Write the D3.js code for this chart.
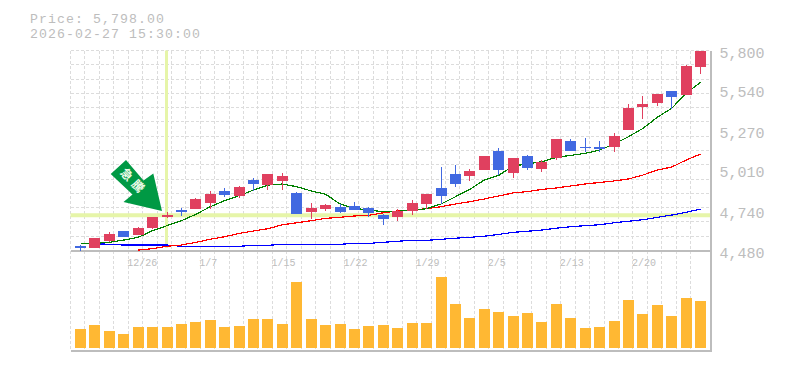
<!DOCTYPE html>
<html>
<head>
<meta charset="utf-8">
<script src="https://cdn.jsdelivr.net/npm/d3@7"></script>
<style>
  html, body { margin: 0; padding: 0; background: #fff; overflow: hidden; }
  svg { display: block; }
  text { font-family: "Liberation Mono", "DejaVu Sans Mono", monospace; fill: #bdbdbd; }
</style>
</head>
<body>
<div id="chart"></div>
<script>
// Candles, oldest first
const opens = [4511, 4496, 4542, 4606, 4582, 4628, 4701, 4747, 4754, 4793, 4872, 4839, 4945, 4912, 4938, 4859, 4734, 4754, 4767, 4773, 4760, 4714, 4701, 4740, 4787, 4892, 4985, 4971, 5011, 5136, 4991, 5103, 5018, 5090, 5202, 5163, 5163, 5163, 5275, 5427, 5453, 5532, 5506, 5691];
const closes = [4496, 4562, 4587, 4569, 4628, 4701, 4714, 4736, 4820, 4853, 4846, 4899, 4919, 4985, 4971, 4721, 4760, 4780, 4734, 4747, 4727, 4688, 4740, 4793, 4853, 4839, 4919, 5004, 5103, 5011, 5090, 5024, 5064, 5216, 5136, 5156, 5150, 5235, 5420, 5447, 5513, 5493, 5697, 5798];
const highs = [4518, 4562, 4602, 4606, 4635, 4701, 4734, 4760, 4826, 4872, 4892, 4905, 4958, 4985, 4991, 4866, 4793, 4787, 4787, 4800, 4767, 4721, 4754, 4813, 4853, 5031, 5044, 5018, 5103, 5156, 5090, 5110, 5077, 5216, 5216, 5222, 5202, 5255, 5447, 5499, 5513, 5532, 5704, 5798];
const lows = [4478, 4496, 4536, 4569, 4582, 4622, 4694, 4707, 4754, 4754, 4833, 4826, 4872, 4879, 4879, 4721, 4688, 4740, 4727, 4747, 4701, 4648, 4674, 4714, 4754, 4787, 4899, 4938, 5011, 4978, 4958, 5011, 4998, 5077, 5136, 5130, 5130, 5130, 5275, 5348, 5433, 5414, 5506, 5645];

// Moving averages, null where the line has not started
const maGreen = [4527, 4527, 4534, 4549, 4567, 4611, 4644, 4677, 4719, 4769, 4809, 4842, 4879, 4912, 4919, 4901, 4873, 4851, 4787, 4758, 4747, 4736, 4739, 4745, 4756, 4787, 4835, 4884, 4945, 4976, 5038, 5051, 5066, 5095, 5108, 5121, 5143, 5183, 5231, 5286, 5359, 5419, 5517, 5590];
const maRed = [null, null, null, null, 4483, 4492, 4508, 4516, 4534, 4554, 4571, 4593, 4609, 4624, 4650, 4663, 4677, 4692, 4699, 4708, 4712, 4729, 4741, 4747, 4756, 4769, 4787, 4802, 4820, 4840, 4860, 4869, 4883, 4893, 4906, 4919, 4929, 4939, 4952, 4978, 5011, 5031, 5077, 5117];
const maBlue = [4525, 4525, 4521, 4516, 4516, 4516, 4516, 4508, 4508, 4508, 4508, 4508, 4514, 4514, 4521, 4521, 4521, 4521, 4521, 4527, 4527, 4534, 4541, 4547, 4547, 4554, 4561, 4567, 4574, 4586, 4600, 4607, 4615, 4627, 4637, 4644, 4650, 4663, 4673, 4683, 4699, 4714, 4732, 4754];

const volumes = [190, 230, 170, 140, 210, 210, 210, 240, 260, 280, 210, 220, 290, 290, 240, 660, 290, 230, 240, 190, 220, 230, 200, 250, 250, 710, 440, 300, 390, 360, 320, 350, 260, 440, 300, 200, 210, 270, 480, 340, 430, 320, 500, 470];

const priceTicks = [5800, 5540, 5270, 5010, 4740, 4480];
const dateTicks = [4, 9, 14, 19, 24, 29, 34, 39];
const dateLabels = ['12/26', '1/7', '1/15', '1/22', '1/29', '2/5', '2/13', '2/20'];

const titleLines = ['Price: 5,798.00', '2026-02-27 15:30:00'];
const crossIndex = 6;
const crossPrice = 4713;
const arrowLabel = '急騰';

const config = {
  width: 785,
  height: 370,
  left: 70.5,
  right: 710.5,
  top: 50.5,
  priceBottom: 250.5,
  volTop: 277,
  volBottom: 348,
  bottom: 350.5
};
const colors = {
  up: '#e0405f',
  down: '#4169e1',
  vol: '#ffb833',
  cross: '#e6f5a9',
  grid: '#dcdcdc',
  axis: '#bdbdbd'
};

const svg = d3.select('#chart').append('svg')
  .attr('width', config.width)
  .attr('height', config.height);

const x = d3.scaleLinear().domain([0, opens.length - 1]).range([80.5, 700.6]);
const y = d3.scaleLinear().domain([4480, 5800]).range([config.priceBottom, config.top]);
const yVol = d3.scaleLinear().domain([0, 710]).range([config.volBottom, config.volTop]);

// Grid: the step is one candle wide, 14 rows in the price panel
const step = x(1) - x(0);
const gridX = d3.range(0, 44).map(i => config.left + i * step);
const gridY = d3.range(0, 14).map(i => config.top + i * (config.priceBottom - config.top) / 14);

const grid = svg.append('g')
  .attr('stroke', colors.grid)
  .attr('stroke-dasharray', '3,2')
  .attr('shape-rendering', 'crispEdges');
grid.selectAll('.gx').data(gridX).enter().append('line')
  .attr('x1', d => d).attr('x2', d => d)
  .attr('y1', config.top).attr('y2', config.bottom);
grid.selectAll('.gy').data(gridY).enter().append('line')
  .attr('y1', d => d).attr('y2', d => d)
  .attr('x1', config.left).attr('x2', config.right);

// Crosshair sits under the candles
svg.append('line')
  .attr('x1', config.left).attr('x2', config.right)
  .attr('y1', y(crossPrice)).attr('y2', y(crossPrice))
  .attr('stroke', colors.cross).attr('stroke-width', 4);
svg.append('line')
  .attr('x1', x(crossIndex) - 0.5).attr('x2', x(crossIndex) - 0.5)
  .attr('y1', config.top).attr('y2', 248)
  .attr('stroke', colors.cross).attr('stroke-width', 3);

// Axes
const axisRight = d3.axisRight(y)
  .tickValues(priceTicks)
  .tickSize(0)
  .tickPadding(9)
  .tickFormat(d3.format(','));
const gRight = svg.append('g')
  .attr('transform', `translate(${config.right},0)`)
  .call(axisRight);
gRight.select('.domain').remove();
gRight.selectAll('text')
  .attr('font-size', 15)
  .attr('dy', 6.5)
  .style('font-family', '"Liberation Mono", monospace')
  .style('fill', '#bdbdbd');

const axisBottom = d3.axisBottom(x)
  .tickValues(dateTicks)
  .tickSize(0)
  .tickPadding(0)
  .tickFormat((d, i) => dateLabels[i]);
const gBottom = svg.append('g')
  .attr('transform', `translate(0,${config.priceBottom})`)
  .call(axisBottom);
gBottom.select('.domain').remove();
gBottom.selectAll('text')
  .attr('font-size', 10)
  .attr('text-anchor', 'start')
  .attr('dx', -11.5)
  .attr('y', 15.5)
  .attr('dy', 0)
  .style('font-family', '"Liberation Mono", monospace')
  .style('fill', '#bdbdbd');

// Panel borders
const borders = svg.append('g')
  .attr('stroke', colors.axis)
  .attr('stroke-width', 2)
  .attr('shape-rendering', 'crispEdges');
borders.append('line')
  .attr('x1', config.left).attr('x2', config.right + 1)
  .attr('y1', config.priceBottom).attr('y2', config.priceBottom);
borders.append('line')
  .attr('x1', config.left).attr('x2', config.right + 1)
  .attr('y1', config.bottom).attr('y2', config.bottom);
borders.append('line')
  .attr('x1', config.right).attr('x2', config.right)
  .attr('y1', config.top).attr('y2', config.bottom + 1);

// Volume bars
svg.append('g').selectAll('rect')
  .data(volumes)
  .enter().append('rect')
  .attr('x', (d, i) => x(i) - 5.5)
  .attr('width', 11)
  .attr('y', d => yVol(d))
  .attr('height', d => config.volBottom - yVol(d))
  .attr('fill', colors.vol)
  .attr('shape-rendering', 'crispEdges');

// Moving averages
function addLine(values, color) {
  const line = d3.line()
    .defined(d => d !== null)
    .x((d, i) => x(i))
    .y(d => y(d));
  svg.append('path')
    .attr('d', line(values))
    .attr('fill', 'none')
    .attr('stroke', color)
    .attr('stroke-width', 1.2)
    .attr('shape-rendering', 'crispEdges');
}
addLine(maBlue, '#0000ff');
addLine(maRed, '#ff0000');
addLine(maGreen, '#008000');

// Candles
const candles = svg.append('g').selectAll('g')
  .data(opens)
  .enter().append('g')
  .attr('shape-rendering', 'crispEdges');
const candleColor = (i) => closes[i] >= opens[i] ? colors.up : colors.down;
const bodyLeft = (i) => Math.round(x(i) - 5.5);
candles.append('line')
  .attr('x1', (d, i) => bodyLeft(i) + 5.5)
  .attr('x2', (d, i) => bodyLeft(i) + 5.5)
  .attr('y1', (d, i) => y(highs[i]))
  .attr('y2', (d, i) => y(lows[i]))
  .attr('stroke', (d, i) => candleColor(i));
candles.append('rect')
  .attr('x', (d, i) => bodyLeft(i))
  .attr('width', 11)
  .attr('y', (d, i) => y(Math.max(opens[i], closes[i])))
  .attr('height', (d, i) => Math.max(1, Math.abs(y(opens[i]) - y(closes[i]))))
  .attr('fill', (d, i) => candleColor(i));

// Arrow marker pointing at the crosshair
const arrowPoints = [[126, 160], [143.5, 180.5], [153.3, 173.5], [162, 211], [123.5, 202], [132.5, 194.5], [110.7, 174]];
svg.append('polygon')
  .attr('points', arrowPoints.map(p => p.join(',')).join(' '))
  .attr('fill', '#009944');
svg.append('text')
  .text(arrowLabel)
  .attr('transform', 'translate(133,182.5) rotate(46)')
  .attr('text-anchor', 'middle')
  .attr('dominant-baseline', 'middle')
  .attr('font-size', 12)
  .attr('font-weight', 'bold')
  .style('font-family', '"Noto Sans CJK JP", sans-serif')
  .style('letter-spacing', '4px')
  .style('fill', '#eefbe9');

// Header, slightly smaller font with added spacing so the two lines do not touch
svg.append('g').selectAll('text')
  .data(titleLines)
  .enter().append('text')
  .text(d => d)
  .attr('x', 30)
  .attr('y', (d, i) => 22.5 + i * 15)
  .attr('font-size', 13.2)
  .style('letter-spacing', '1.08px');
</script>
</body>
</html>
